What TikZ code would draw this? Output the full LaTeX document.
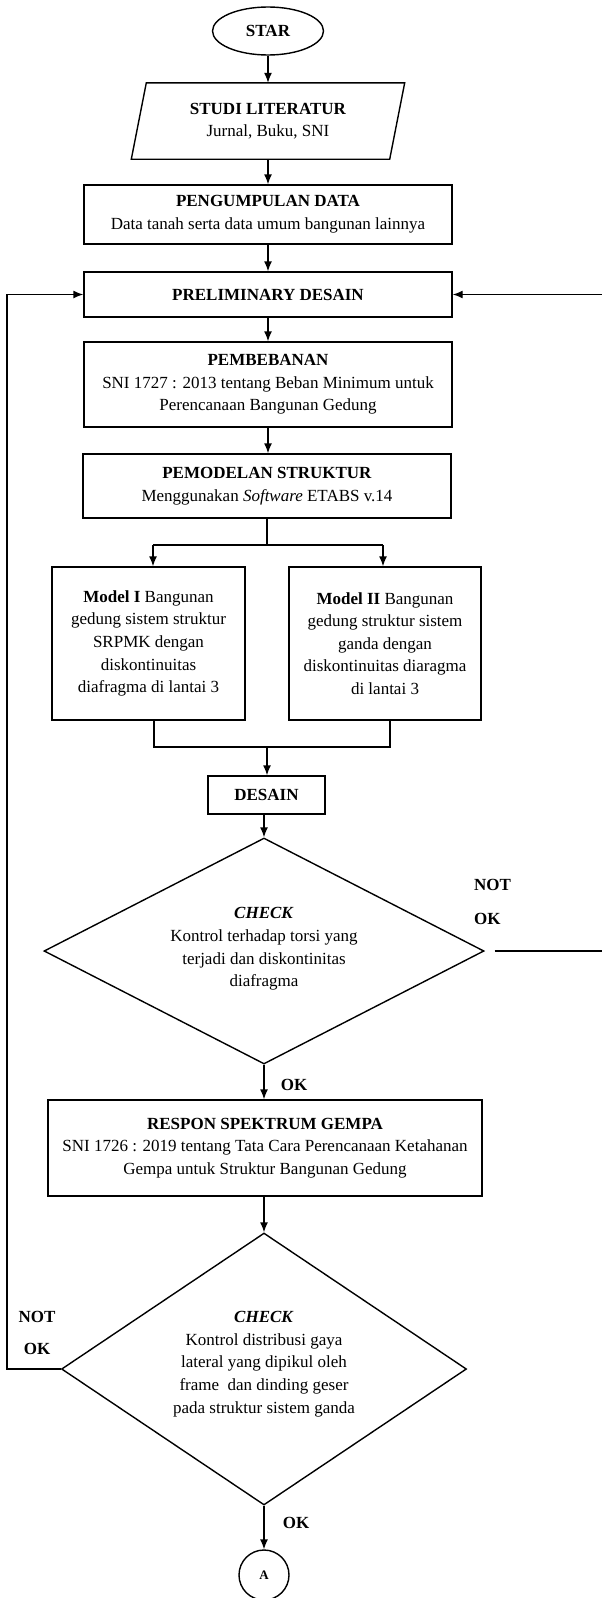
\documentclass[tikz,border=0pt]{standalone}
\usepackage{fontspec}
\setmainfont{Liberation Serif}
\usetikzlibrary{shapes.geometric,arrows.meta,calc}
\begin{document}
\begin{tikzpicture}[x=1pt,y=-1pt,
  every node/.style={font=\fontsize{17}{22.6}\selectfont, inner sep=0pt},
  box/.style={draw, line width=1.4pt, align=center},
  arr/.style={-{Latex[length=10pt,width=8pt]}, line width=1.4pt},
  ln/.style={line width=1.4pt},
  lbl/.style={font=\fontsize{17}{22.6}\selectfont\bfseries},
  dia/.style={draw, diamond, line width=1.4pt}]
\useasboundingbox (0,0) rectangle (602,1598);

% nodes
\node[draw, ellipse, line width=1.4pt, minimum width=111pt, minimum height=48pt, font=\fontsize{17}{22.6}\selectfont\bfseries] (star) at (268,31) {STAR};
\node[minimum width=258pt, minimum height=76pt, align=center] (lit) at (268,121) {\textbf{STUDI LITERATUR}\\Jurnal, Buku, SNI};
\draw[ln] ($(lit.north west)+(7.5,0)$) -- ($(lit.north east)+(7.5,0)$) -- ($(lit.south east)+(-7.5,0)$) -- ($(lit.south west)+(-7.5,0)$) -- cycle;
\node[box, minimum width=368pt, minimum height=59pt] (data) at (268,214.5) {\textbf{PENGUMPULAN DATA}\\Data tanah serta data umum bangunan lainnya};
\node[box, minimum width=368pt, minimum height=45pt] (pre) at (268,294.5) {\textbf{PRELIMINARY DESAIN}};
\node[box, minimum width=368pt, minimum height=85pt] (beban) at (268,384.5) {\textbf{PEMBEBANAN}\\SNI 1727 : 2013 tentang Beban Minimum untuk\\Perencanaan Bangunan Gedung};
\node[box, minimum width=368pt, minimum height=64pt] (model) at (267,486) {\textbf{PEMODELAN STRUKTUR}\\Menggunakan \textit{Software} ETABS v.14};
\node[box, minimum width=193pt, minimum height=153pt] (m1) at (148.5,643.5) {\textbf{Model I} Bangunan\\gedung sistem struktur\\SRPMK dengan\\diskontinuitas\\diafragma di lantai 3};
\node[box, minimum width=192pt, minimum height=153pt] (m2) at (385,643.5) {\textbf{Model II} Bangunan\\gedung struktur sistem\\ganda dengan\\diskontinuitas diaragma\\di lantai 3};
\node[box, minimum width=117pt, minimum height=38pt] (desain) at (266.5,795) {\textbf{DESAIN}};
\node[dia, minimum width=440pt, minimum height=226pt] (d1) at (264,951) {};
\node[align=center] (t1) at (264,949) {\textbf{\textit{CHECK}}\\Kontrol terhadap torsi yang\\terjadi dan diskontinitas\\diafragma};
\node[box, minimum width=434pt, minimum height=96pt] (respon) at (265,1148) {\textbf{RESPON SPEKTRUM GEMPA}\\SNI 1726 : 2019 tentang Tata Cara Perencanaan Ketahanan\\Gempa untuk Struktur Bangunan Gedung};
\node[dia, minimum width=405pt, minimum height=272pt] (d2) at (264,1369) {};
\node[align=center] (t2) at (264,1364) {\textbf{\textit{CHECK}}\\Kontrol distribusi gaya\\lateral yang dipikul oleh\\frame\ \ dan dinding geser\\pada struktur sistem ganda};
\node[draw, circle, line width=1.4pt, minimum size=50pt, font=\fontsize{13}{15}\selectfont\bfseries] (A) at (264,1575) {A};

% labels
\node[lbl] (ok1) at (294,1085) {OK};
\node[lbl] (ok2) at (296,1523) {OK};
\node[align=left, anchor=west, font=\fontsize{17}{34}\selectfont\bfseries] (no1) at (474,902) {NOT\\OK};
\node[align=center, font=\fontsize{17}{32}\selectfont\bfseries] (no2) at (37,1333) {NOT\\OK};

% coordinates
\coordinate (br) at (267,545);
\coordinate (b1) at (153,545);
\coordinate (b2) at (383,545);
\coordinate (j1) at (154,747);
\coordinate (j2) at (390,747);
\coordinate (jm) at (267,747);
\coordinate (rx) at (604,0);
\coordinate (lx) at (7,0);

% connectors
\draw[arr] (star) -- (lit);
\draw[arr] (lit.south) -- (data.north);
\draw[arr] (data) -- (pre);
\draw[arr] (pre) -- (beban);
\draw[arr] (beban.south) -- (beban.south |- model.north);
\draw[ln] (model.south) -- (br);
\draw[ln] (b1) -- (b2);
\draw[arr] (b1) -- (b1 |- m1.north);
\draw[arr] (b2) -- (b2 |- m2.north);
\draw[ln] (j1 |- m1.south) -- (j1) -- (j2) -- (j2 |- m2.south);
\draw[arr] (jm) -- (jm |- desain.north);
\draw[arr] (d1.north |- desain.south) -- (d1.north);
\draw[arr] (d1.south) -- (d1.south |- respon.north);
\draw[arr] (respon.south -| d2.north) -- (d2.north);
\draw[arr] (d2.south) -- (A.north);
\draw[arr] ($(d1.east)+(10,0)$) -- (d1.east -| rx) -- (pre.east -| rx) -- (pre.east);
\draw[arr] (d2.west) -- (d2.west -| lx) -- (pre.west -| lx) -- (pre.west);
\end{tikzpicture}
\end{document}
